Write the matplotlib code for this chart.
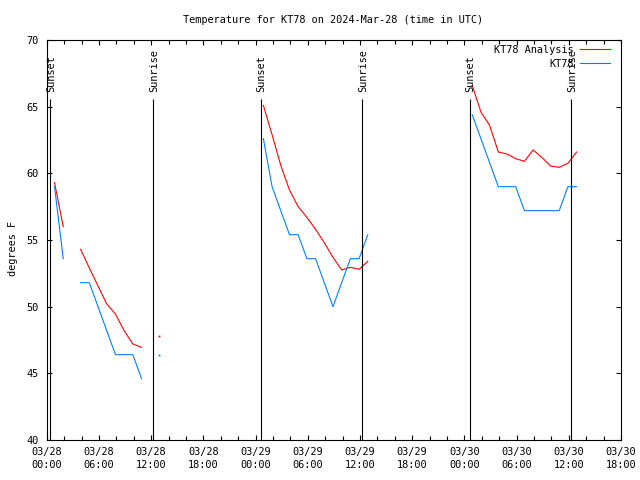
import numpy as np
import matplotlib
matplotlib.use("Agg")
import matplotlib.pyplot as plt

# hours since 2024-03-28 00:00 UTC, nan = missing obs (breaks the line)
hours = [0.9, 1.9, 2.9,
         3.9, 4.9, 5.9, 6.9, 7.9, 8.9, 9.9, 10.9, 11.9,
         12.9, 13.9,
         24.9, 25.9, 26.9, 27.9, 28.9, 29.9, 30.9, 31.9, 32.9, 33.9, 34.9, 35.9, 36.9, 37.9,
         48.9, 49.9, 50.9, 51.9, 52.9, 53.9, 54.9, 55.9, 56.9, 57.9, 58.9, 59.9, 60.9]

nan = np.nan
analysis = [59.3, 56.0, nan,
            54.3, 52.9, 51.55, 50.2, 49.45, 48.2, 47.2, 46.95, nan,
            47.8, nan,
            65.1, 62.9, 60.6, 58.75, 57.5, 56.7, 55.8, 54.8, 53.7, 52.75, 52.95, 52.8, 53.4, nan,
            66.6, 64.6, 63.6, 61.6, 61.45, 61.1, 60.9, 61.75, 61.2, 60.55, 60.45, 60.75, 61.6]

obs = [59.0, 53.6, nan,
       51.8, 51.8, 50.0, 48.2, 46.4, 46.4, 46.4, 44.6, nan,
       46.4, nan,
       62.6, 59.0, 57.2, 55.4, 55.4, 53.6, 53.6, 51.8, 50.0, 51.8, 53.6, 53.6, 55.4, nan,
       64.4, 62.6, 60.8, 59.0, 59.0, 59.0, 57.2, 57.2, 57.2, 57.2, 57.2, 59.0, 59.0]

sunset = [0.43, 24.58, 48.6]
sunrise = [12.25, 36.27, 60.26]

xtick_hours = list(range(0, 67, 6))
xtick_labels = ["03/28\n00:00", "03/28\n06:00", "03/28\n12:00", "03/28\n18:00",
                "03/29\n00:00", "03/29\n06:00", "03/29\n12:00", "03/29\n18:00",
                "03/30\n00:00", "03/30\n06:00", "03/30\n12:00", "03/30\n18:00"]

plt.rcParams['font.family'] = ['DejaVu Sans Mono']
plt.rcParams['font.size'] = 7.4

fig = plt.figure(figsize=(6.4, 4.8), dpi=100)
ax = fig.add_axes([46.7 / 640, 40 / 480, 574.3 / 640, 400 / 480])

hrs = np.array(hours)
an = np.array(analysis)
ob = np.array(obs)

lw = 0.8
ax.plot(hrs, an, color='#ff0000', lw=lw, label='KT78 Analysis')
ax.plot(hrs, ob, color='#0080ff', lw=lw, label='KT78')

# single points with no neighbours don't show as a line, draw them as dots
def lonely(v):
    out = np.full(len(v), nan)
    for i in range(len(v)):
        prev_ok = i > 0 and not np.isnan(v[i - 1])
        next_ok = i < len(v) - 1 and not np.isnan(v[i + 1])
        if not np.isnan(v[i]) and not prev_ok and not next_ok:
            out[i] = v[i]
    return out

ax.plot(hrs, lonely(an), ls='none', marker='s', ms=1.3, mew=0, color='#ff0000')
ax.plot(hrs, lonely(ob), ls='none', marker='s', ms=1.3, mew=0, color='#0080ff')

# sunrise / sunset markers
ax.vlines(sunset + sunrise, 40, 65.55, color='black', lw=lw)
for t in sunset:
    ax.text(t + 0.1, 66.1, 'Sunset', rotation=90, ha='center', va='bottom')
for t in sunrise:
    ax.text(t + 0.1, 66.1, 'Sunrise', rotation=90, ha='center', va='bottom')

ax.set_xlim(0, 66)
ax.set_ylim(40, 70)
ax.set_xticks(xtick_hours)
ax.set_xticklabels(xtick_labels, linespacing=1.4)
ax.set_xticks(range(0, 67, 2), minor=True)
ax.set_yticks(range(40, 71, 5))
ax.tick_params(which='both', direction='in', top=True, right=True, color='black')
ax.tick_params(which='major', length=3.5, width=lw)
ax.tick_params(which='minor', length=3, width=lw)
ax.tick_params(axis='x', pad=5)
ax.tick_params(axis='y', pad=6)
for s in ax.spines.values():
    s.set_linewidth(lw)

ax.set_ylabel('degrees F')
ax.yaxis.set_label_coords(-0.05, 0.48)

fig.text(333 / 640, 1 - 20 / 480, 'Temperature for KT78 on 2024-Mar-28 (time in UTC)',
         ha='center', va='center')

ax.legend(loc='upper right', bbox_to_anchor=(0.981, 0.988), borderaxespad=0, borderpad=0,
          frameon=False, markerfirst=False, handlelength=2.9, handletextpad=0.6,
          labelspacing=0.4)

fig.savefig('out.png', dpi=100)
